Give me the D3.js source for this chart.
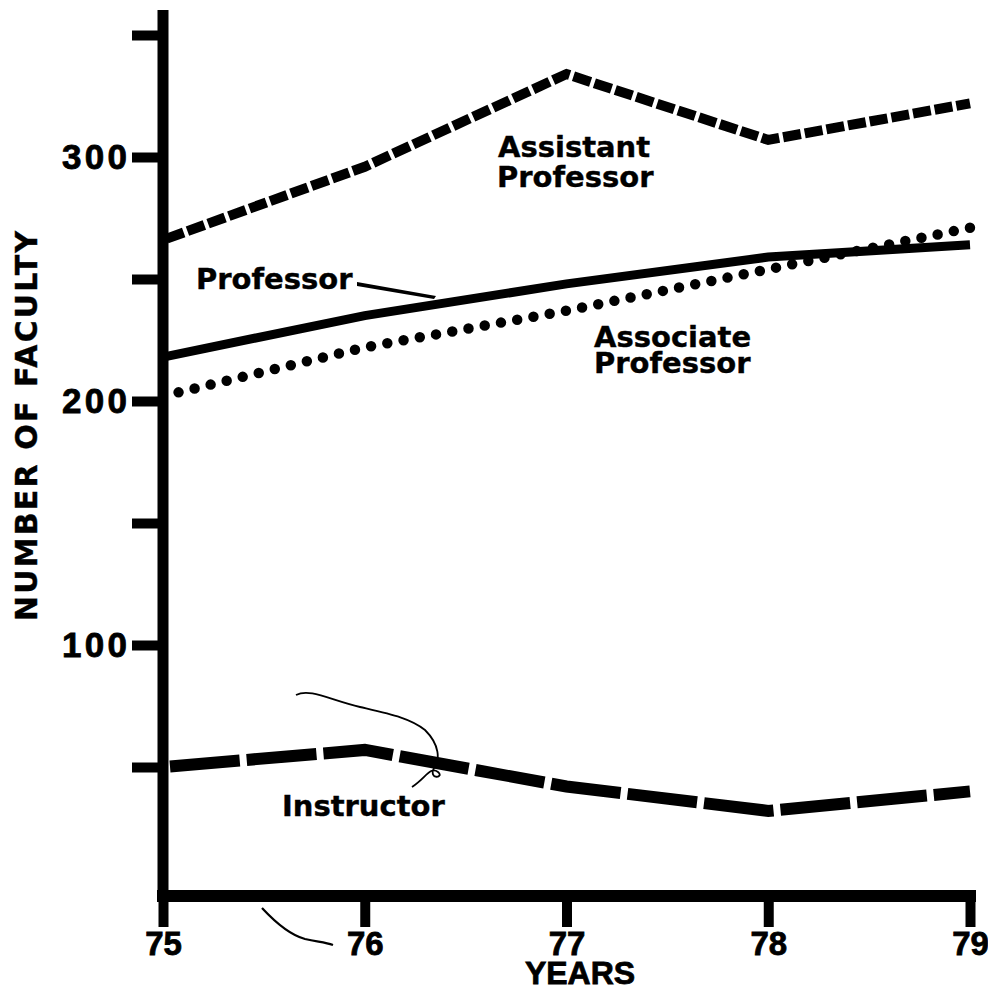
<!DOCTYPE html>
<html>
<head>
<meta charset="utf-8">
<script src="https://cdn.jsdelivr.net/npm/d3@7"></script>
<style>
  body { margin: 0; background: #fff; }
  svg { display: block; }
  .num { font-family: "Liberation Sans", Arial, sans-serif; font-weight: bold; stroke: #000; stroke-width: 0.8px; }
  .lbl { font-family: "DejaVu Sans", sans-serif; font-weight: bold; stroke: #000; stroke-width: 0.4px; }
</style>
</head>
<body>
<svg id="chart"></svg>
<script>
// values
const years = [75, 76, 77, 78, 79];
const assistant = [266, 296, 334, 307, 322];
const professor = [218, 235, 248, 259, 264];
const associate = [202, 222, 237, 254, 271];
const instructor = [50, 57, 42, 32, 40];

const yTicks = [50, 100, 150, 200, 250, 300, 350];
const yTickLabels = [100, 200, 300];

function getConfig() {
    let width = 988;
    let height = 990;
    let svg = d3.select("#chart")
        .attr("width", width)
        .attr("height", height);
    let x = d3.scaleLinear().domain([75, 79]).range([163, 970]);
    let y = d3.scaleLinear().domain([0, 350]).range([889, 35]);
    return {svg, x, y};
}

function drawAxes(svg, x, y) {
    // y axis ticks + labels
    const yAxis = d3.axisLeft(y)
        .tickValues(yTicks)
        .tickSize(31)
        .tickPadding(5)
        .tickFormat(d => yTickLabels.includes(d) ? d : "");
    const gy = svg.append("g")
        .attr("transform", "translate(163,0)")
        .call(yAxis);
    gy.select(".domain").remove();
    gy.selectAll(".tick line").attr("stroke", "#000").attr("stroke-width", 10);
    gy.selectAll(".tick text")
        .attr("class", "num")
        .attr("fill", "#000")
        .style("font-size", "35px")
        .attr("textLength", 65)
        .attr("lengthAdjust", "spacing");

    // x axis ticks + labels
    const xAxis = d3.axisBottom(x)
        .tickValues(years)
        .tickSize(31)
        .tickPadding(5)
        .tickFormat(d3.format("d"));
    const gx = svg.append("g")
        .attr("transform", "translate(0,896)")
        .call(xAxis);
    gx.select(".domain").remove();
    gx.selectAll(".tick line").attr("stroke", "#000").attr("stroke-width", 10);
    gx.selectAll(".tick text")
        .attr("class", "num")
        .attr("fill", "#000")
        .style("font-size", "33px");

    // spines
    svg.append("line")
        .attr("x1", 163).attr("x2", 163)
        .attr("y1", 10).attr("y2", 896)
        .attr("stroke", "#000").attr("stroke-width", 11);
    svg.append("line")
        .attr("x1", 157).attr("x2", 976)
        .attr("y1", 896).attr("y2", 896)
        .attr("stroke", "#000").attr("stroke-width", 12);

    svg.append("text")
        .attr("class", "num")
        .attr("x", 580).attr("y", 984)
        .attr("text-anchor", "middle")
        .style("font-size", "32px")
        .text("YEARS");

    svg.append("text")
        .attr("class", "lbl")
        .attr("transform", "translate(37,426) rotate(-90)")
        .attr("text-anchor", "middle")
        .attr("textLength", 390)
        .attr("lengthAdjust", "spacing")
        .style("font-size", "30px")
        .text("NUMBER OF FACULTY");
}

function drawSeries(svg, x, y, values, style) {
    const line = d3.line()
        .x((d, i) => x(years[i]))
        .y(d => y(d));
    svg.append("path")
        .datum(values)
        .attr("d", line)
        .attr("fill", "none")
        .attr("stroke", "#000")
        .attr("stroke-width", style.width)
        .attr("stroke-dasharray", style.dash)
        .attr("stroke-dashoffset", style.offset || 0)
        .attr("stroke-linecap", style.cap || "butt")
        .attr("stroke-linejoin", "miter");
}

function drawLabels(svg) {
    const labels = [
        {x: 498, y: 157, t: "Assistant"},
        {x: 497, y: 187, t: "Professor"},
        {x: 196, y: 289, t: "Professor"},
        {x: 594, y: 347, t: "Associate"},
        {x: 594, y: 373, t: "Professor"},
        {x: 282, y: 816, t: "Instructor"}
    ];
    svg.selectAll("text.series")
        .data(labels)
        .enter()
        .append("text")
        .attr("class", "lbl series")
        .attr("x", d => d.x)
        .attr("y", d => d.y)
        .style("font-size", "29px")
        .text(d => d.t);

    // pointer from "Professor" to its line
    svg.append("path")
        .attr("d", "M357,282 L436,296 L434,299 L357,286 Z")
        .attr("fill", "#000");

    // pen scribbles on the scan
    svg.append("path")
        .attr("d", "M296,695 C310,688 330,700 360,707 C390,714 410,718 425,730 C440,745 440,760 434,768 C428,780 445,778 438,772 C430,766 426,778 412,787")
        .attr("fill", "none").attr("stroke", "#000").attr("stroke-width", 1.8);
    svg.append("path")
        .attr("d", "M262,908 C275,922 290,935 305,939 C318,942 325,942 333,945")
        .attr("fill", "none").attr("stroke", "#000").attr("stroke-width", 2.2);
}

function drawChart() {
    const {svg, x, y} = getConfig();
    drawSeries(svg, x, y, assistant, {width: 10, dash: "18 4", offset: 18});
    drawSeries(svg, x, y, professor, {width: 9, dash: null});
    drawSeries(svg, x, y, associate, {width: 10.5, dash: "0 16.5", offset: -16, cap: "round"});
    drawSeries(svg, x, y, instructor, {width: 12, dash: "70 7", offset: 70});
    drawAxes(svg, x, y);
    drawLabels(svg);
}

drawChart();
</script>
</body>
</html>
